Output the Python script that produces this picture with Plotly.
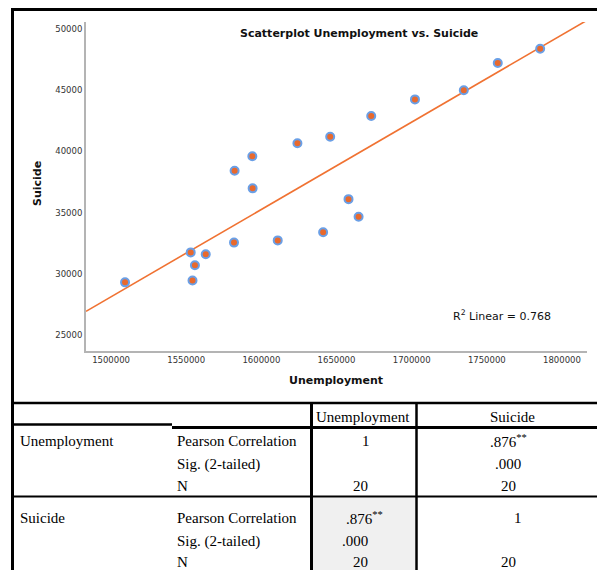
import numpy as np
import plotly.graph_objects as go

# ---------------- data ----------------
unemployment = [1509300, 1553000, 1554200, 1555800, 1563000, 1581800, 1610900,
                1641100, 1664700, 1658000, 1582200, 1594000, 1594200, 1624000,
                1645800, 1673100, 1702200, 1734700, 1757300, 1785500]
suicide = [29300, 31750, 29450, 30700, 31600, 32550, 32730,
           33390, 34660, 36100, 38420, 39600, 36980, 40660,
           41200, 42890, 44250, 45000, 47220, 48390]
r2_linear = 0.768

x_ticks = [1500000, 1550000, 1600000, 1650000, 1700000, 1750000, 1800000]
y_ticks = [25000, 30000, 35000, 40000, 45000, 50000]
x_range = [1483333, 1816667]
y_range = [23693, 50572]

col_vars = ["Unemployment", "Suicide"]
row_vars = ["Unemployment", "Suicide"]
stat_names = ["Pearson Correlation", "Sig. (2-tailed)", "N"]
# values[row_var][stat][col_var]
values = [
    [["1", ".876<sup>**</sup>"], ["", ".000"], ["20", "20"]],
    [[".876<sup>**</sup>", "1"], [".000", ""], ["20", "20"]],
]

# page body has an 8px margin; the figure is sized so it fills the window
OFF = 8
W, H = 597, 562
def px(x):
    return (x - OFF) / W
def py(y):
    return 1 - (y - OFF) / H

# regression line from data
slope, intercept = np.polyfit(unemployment, suicide, 1)
line_x = np.array(x_range)
line_y = slope * line_x + intercept

fig = go.Figure()
fig.add_trace(go.Scatter(x=line_x, y=line_y, mode="lines",
                         line=dict(color="#f07232", width=1.6),
                         hoverinfo="skip", showlegend=False))
fig.add_trace(go.Scatter(x=unemployment, y=suicide, mode="markers",
                         marker=dict(size=8, color="#e8692d",
                                     line=dict(color="#6a9fe6", width=2)),
                         showlegend=False))

axis_font = dict(family="DejaVu Sans", size=8.5, color="#333333")
fig.update_xaxes(range=x_range, tickvals=x_ticks, ticktext=[str(v) for v in x_ticks],
                 showgrid=False, zeroline=False, showline=True, linecolor="#b4b4b4",
                 linewidth=2, ticks="", tickfont=axis_font, automargin=False,
                 domain=[px(86), px(587)], anchor="y")
fig.update_yaxes(range=y_range, tickvals=y_ticks, ticktext=[str(v) for v in y_ticks],
                 showgrid=False, zeroline=False, showline=True, linecolor="#b4b4b4",
                 linewidth=2, ticks="", tickfont=axis_font, automargin=False,
                 domain=[py(351), py(22)], anchor="x")

ann = []
def add_text(x, y, text, font, xanchor="center", **kw):
    ann.append(dict(x=px(x), y=py(y), xref="paper", yref="paper", showarrow=False,
                    xanchor=xanchor, yanchor="middle", text=text, font=font, **kw))

bold_font = dict(family="DejaVu Sans", size=11, color="#111111")
add_text(359, 34, "<b>Scatterplot Unemployment vs. Suicide</b>", bold_font)
add_text(336, 380, "<b>Unemployment</b>", bold_font)
add_text(37, 184, "<b>Suicide</b>", bold_font, textangle=-90)
add_text(502, 315, "R<sup>2</sup> Linear = %.3f" % r2_linear,
         dict(family="DejaVu Sans", size=11, color="#111111"))

# ---------------- table ----------------
serif = dict(family="Liberation Serif", size=15, color="#000000")
shapes = []
def hline(y, x0, x1, w):
    shapes.append(dict(type="line", xref="paper", yref="paper",
                       x0=px(x0), x1=px(x1), y0=py(y), y1=py(y),
                       line=dict(color="black", width=w)))
def vline(x, y0, y1, w):
    shapes.append(dict(type="line", xref="paper", yref="paper",
                       x0=px(x), x1=px(x), y0=py(y0), y1=py(y1),
                       line=dict(color="black", width=w)))

# gray shaded cell
shapes.append(dict(type="rect", xref="paper", yref="paper",
                   x0=px(313), x1=px(415), y0=py(572), y1=py(498),
                   fillcolor="#f0f0f0", line=dict(width=0), layer="below"))

hline(9.5, 11, 606, 3)        # frame top
vline(12.5, 8, 572, 3)        # frame left
hline(403, 11, 606, 2.5)      # chart bottom / table top
hline(424.5, 11, 172, 2.5)    # header bottom (left part)
hline(427.5, 172, 606, 3)     # header bottom (right part)
hline(496.5, 11, 606, 2)      # row separator
vline(311.5, 403, 572, 3)
vline(416.5, 403, 572, 2.5)

add_text(363, 417, col_vars[0], serif)
add_text(512, 417, col_vars[1], serif)

row_y = [[441, 464, 486], [518, 541, 562]]
val_x = [
    [[366, 508], [366, 508], [360, 508]],
    [[364, 518], [355, 508], [360, 508]],
]
for r, rv in enumerate(row_vars):
    add_text(18, row_y[r][0], rv, serif, xanchor="left")
    for s, sn in enumerate(stat_names):
        add_text(175, row_y[r][s], sn, serif, xanchor="left")
        for c in range(2):
            v = values[r][s][c]
            if v:
                add_text(val_x[r][s][c], row_y[r][s], v, serif)

fig.update_layout(width=W, height=H, margin=dict(l=0, r=0, t=0, b=0, autoexpand=False),
                  paper_bgcolor="white", plot_bgcolor="white",
                  annotations=ann, shapes=shapes, showlegend=False)
fig.write_html("out.html")
